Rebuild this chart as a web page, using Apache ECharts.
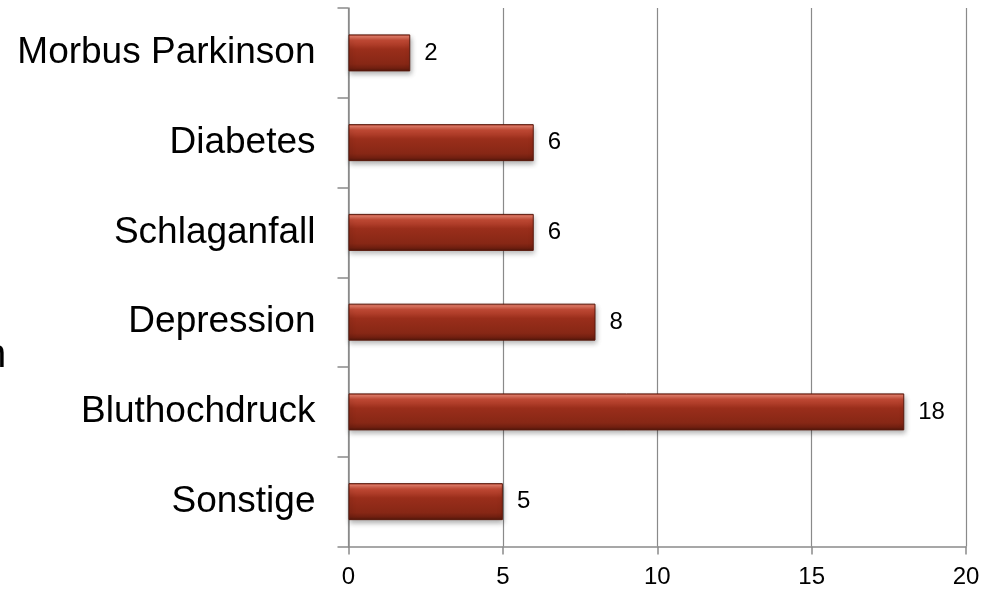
<!DOCTYPE html>
<html>
<head>
<meta charset="utf-8">
<style>
  html, body { margin: 0; padding: 0; background: #ffffff; }
  #chart { width: 988px; height: 590px; }
</style>
<script src="https://cdn.jsdelivr.net/npm/echarts@6/dist/echarts.min.js"></script>
</head>
<body>
<div id="chart"></div>
<script>
// Diagnoses, top to bottom
const categories = ['Morbus Parkinson', 'Diabetes', 'Schlaganfall', 'Depression', 'Bluthochdruck', 'Sonstige'];
// Number of cases per diagnosis
const counts = [2, 6, 6, 8, 18, 5];
// Value axis range
const axisMin = 0;
const axisMax = 20;
const axisStep = 5;

const FONT = '"Liberation Sans", Arial, sans-serif';
const GREY = '#8a8a8a';

const chart = echarts.init(document.getElementById('chart'), null, { renderer: 'canvas' });

// Glossy brick-red fill with a light top bevel and a dark lower edge
const barFill = new echarts.graphic.LinearGradient(0, 0, 0, 1, [
  { offset: 0.00, color: '#b3402d' },
  { offset: 0.06, color: '#e27a66' },
  { offset: 0.16, color: '#c24a35' },
  { offset: 0.40, color: '#9a2e1b' },
  { offset: 0.80, color: '#872715' },
  { offset: 0.92, color: '#6f1f10' },
  { offset: 1.00, color: '#4e160b' }
]);

chart.setOption({
  animation: false,
  backgroundColor: '#ffffff',
  grid: { left: 348.5, right: 22, top: 8, bottom: 43.5, containLabel: false },
  xAxis: {
    type: 'value',
    min: axisMin,
    max: axisMax,
    interval: axisStep,
    axisLine: { show: true, lineStyle: { color: GREY, width: 1.5 } },
    axisTick: { show: true, inside: false, length: 8, lineStyle: { color: GREY, width: 1.5 } },
    splitLine: { show: true, lineStyle: { color: GREY, width: 1.2 } },
    axisLabel: { color: '#000', fontFamily: FONT, fontSize: 24, margin: 19 }
  },
  yAxis: {
    type: 'category',
    data: categories,
    inverse: true,
    boundaryGap: true,
    axisLine: { show: true, lineStyle: { color: GREY, width: 1.5 } },
    axisTick: { show: true, inside: false, length: 11, lineStyle: { color: GREY, width: 1.5 } },
    axisLabel: { color: '#000', fontFamily: FONT, fontSize: 37, margin: 33 }
  },
  series: [{
    type: 'bar',
    data: counts,
    barWidth: 37,
    itemStyle: {
      color: barFill,
      borderColor: '#5a190c',
      borderWidth: 1,
      shadowColor: 'rgba(0,0,0,0.30)',
      shadowBlur: 5,
      shadowOffsetX: 1,
      shadowOffsetY: 3
    },
    label: {
      show: true,
      position: 'right',
      distance: 14,
      color: '#000',
      fontFamily: FONT,
      fontSize: 24
    }
  }],
  graphic: [{
    type: 'text',
    x: -16,
    y: 376,
    style: { text: 'n', fill: '#000', font: '40px ' + FONT, verticalAlign: 'bottom' }
  }]
});
</script>
</body>
</html>
